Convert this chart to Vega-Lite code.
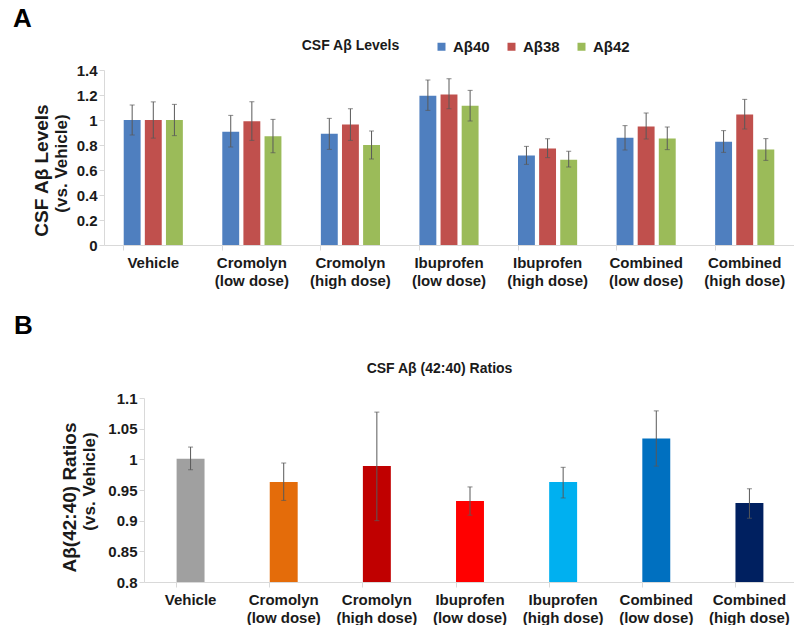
{
  "$schema": "https://vega.github.io/schema/vega-lite/v6.json",
  "padding": {"left": 12, "top": 6, "right": 0, "bottom": 0},
  "config": {
    "font": "Liberation Sans",
    "view": {"stroke": null},
    "axis": {
      "grid": false,
      "labelFont": "Liberation Sans",
      "labelFontWeight": "bold",
      "labelFontSize": 15,
      "labelColor": "#1a1a1a",
      "titleFont": "Liberation Sans",
      "titleFontWeight": "bold",
      "titleColor": "#1a1a1a",
      "domainColor": "#d9d9d9",
      "tickColor": "#d9d9d9",
      "tickSize": 5
    },
    "legend": {
      "labelFont": "Liberation Sans",
      "labelFontWeight": "bold",
      "labelFontSize": 15,
      "labelColor": "#1a1a1a"
    }
  },
  "datasets": {
    "levels": [
      {"group": "Vehicle", "peptide": "Aβ40", "value": 1.0, "lo": 0.88, "hi": 1.12},
      {"group": "Vehicle", "peptide": "Aβ38", "value": 1.0, "lo": 0.855, "hi": 1.145},
      {"group": "Vehicle", "peptide": "Aβ42", "value": 1.0, "lo": 0.875, "hi": 1.125},
      {"group": "Cromolyn|(low dose)", "peptide": "Aβ40", "value": 0.906, "lo": 0.784, "hi": 1.037},
      {"group": "Cromolyn|(low dose)", "peptide": "Aβ38", "value": 0.99, "lo": 0.837, "hi": 1.146},
      {"group": "Cromolyn|(low dose)", "peptide": "Aβ42", "value": 0.87, "lo": 0.738, "hi": 1.005},
      {"group": "Cromolyn|(high dose)", "peptide": "Aβ40", "value": 0.89, "lo": 0.765, "hi": 1.013},
      {"group": "Cromolyn|(high dose)", "peptide": "Aβ38", "value": 0.965, "lo": 0.837, "hi": 1.09},
      {"group": "Cromolyn|(high dose)", "peptide": "Aβ42", "value": 0.8, "lo": 0.688, "hi": 0.912},
      {"group": "Ibuprofen|(low dose)", "peptide": "Aβ40", "value": 1.195, "lo": 1.077, "hi": 1.32},
      {"group": "Ibuprofen|(low dose)", "peptide": "Aβ38", "value": 1.205, "lo": 1.09, "hi": 1.33},
      {"group": "Ibuprofen|(low dose)", "peptide": "Aβ42", "value": 1.115, "lo": 0.992, "hi": 1.237},
      {"group": "Ibuprofen|(high dose)", "peptide": "Aβ40", "value": 0.717, "lo": 0.645, "hi": 0.789},
      {"group": "Ibuprofen|(high dose)", "peptide": "Aβ38", "value": 0.773, "lo": 0.699, "hi": 0.85},
      {"group": "Ibuprofen|(high dose)", "peptide": "Aβ42", "value": 0.683, "lo": 0.624, "hi": 0.75},
      {"group": "Combined|(low dose)", "peptide": "Aβ40", "value": 0.859, "lo": 0.76, "hi": 0.955},
      {"group": "Combined|(low dose)", "peptide": "Aβ38", "value": 0.949, "lo": 0.848, "hi": 1.056},
      {"group": "Combined|(low dose)", "peptide": "Aβ42", "value": 0.853, "lo": 0.763, "hi": 0.944},
      {"group": "Combined|(high dose)", "peptide": "Aβ40", "value": 0.827, "lo": 0.741, "hi": 0.915},
      {"group": "Combined|(high dose)", "peptide": "Aβ38", "value": 1.045, "lo": 0.928, "hi": 1.165},
      {"group": "Combined|(high dose)", "peptide": "Aβ42", "value": 0.765, "lo": 0.677, "hi": 0.851}
    ],
    "ratios": [
      {"group": "Vehicle", "value": 1.001, "lo": 0.983, "hi": 1.02},
      {"group": "Cromolyn|(low dose)", "value": 0.963, "lo": 0.933, "hi": 0.994},
      {"group": "Cromolyn|(high dose)", "value": 0.989, "lo": 0.9, "hi": 1.077},
      {"group": "Ibuprofen|(low dose)", "value": 0.932, "lo": 0.909, "hi": 0.955},
      {"group": "Ibuprofen|(high dose)", "value": 0.963, "lo": 0.937, "hi": 0.987},
      {"group": "Combined|(low dose)", "value": 1.034, "lo": 0.989, "hi": 1.079},
      {"group": "Combined|(high dose)", "value": 0.929, "lo": 0.904, "hi": 0.952}
    ]
  },
  "vconcat": [
    {
      "title": {"text": "A", "anchor": "start", "frame": "bounds", "fontSize": 26, "fontWeight": "bold", "color": "#000000", "dx": -19, "offset": 6},
      "width": 690,
      "height": 175,
      "data": {"name": "levels"},
      "layer": [
        {
          "mark": {"type": "bar"},
          "encoding": {
            "x": {"field": "group", "type": "nominal", "sort": null,
              "scale": {"paddingInner": 0.4, "paddingOuter": 0.2},
              "axis": {"title": null, "labelAngle": 0, "labelExpr": "split(datum.label, '|')", "labelLineHeight": 18, "labelPadding": 5, "bandPosition": 0, "ticks": true}},
            "xOffset": {"field": "peptide", "type": "nominal", "sort": ["Aβ40", "Aβ38", "Aβ42"], "scale": {"paddingInner": 0.2, "paddingOuter": 0}},
            "y": {"field": "value", "type": "quantitative", "scale": {"domain": [0, 1.4], "nice": false},
              "axis": {"title": "CSF Aβ Levels", "titleFontSize": 19, "titleX": -63, "titleY": 100, "titleBaseline": "middle", "titleAngle": -90, "titleAnchor": "middle", "values": [0, 0.2, 0.4, 0.6, 0.8, 1, 1.2, 1.4], "format": "~g", "labelPadding": 2}},
            "color": {"field": "peptide", "type": "nominal",
              "scale": {"domain": ["Aβ40", "Aβ38", "Aβ42"], "range": ["#4f7fbf", "#c0504d", "#9bbb59"]},
              "legend": {"title": null, "orient": "none", "direction": "horizontal", "legendX": 330, "legendY": -31, "symbolType": "square", "symbolSize": 64, "symbolStrokeWidth": 0, "columnPadding": 14, "labelOffset": 4}}
          }
        },
        {
          "mark": {"type": "rule", "color": "#595959", "strokeWidth": 1},
          "encoding": {
            "x": {"field": "group", "type": "nominal", "sort": null,
              "axis": {"orient": "top", "title": "CSF Aβ Levels", "titleFontSize": 14, "titleX": 246, "titleY": -25, "titleBaseline": "middle", "titleAnchor": "middle", "labels": false, "ticks": false, "domain": false}},
            "xOffset": {"field": "peptide", "type": "nominal", "sort": ["Aβ40", "Aβ38", "Aβ42"]},
            "y": {"field": "lo", "type": "quantitative", "axis": null},
            "y2": {"field": "hi"}
          }
        },
        {
          "mark": {"type": "tick", "color": "#595959", "thickness": 1, "size": 5, "orient": "horizontal"},
          "encoding": {
            "x": {"field": "group", "type": "nominal", "sort": null, "axis": null},
            "xOffset": {"field": "peptide", "type": "nominal", "sort": ["Aβ40", "Aβ38", "Aβ42"]},
            "y": {"field": "lo", "type": "quantitative",
              "axis": {"orient": "left", "title": "(vs. Vehicle)", "titleFontSize": 17, "titleFontWeight": "bold", "titleX": -43, "titleY": 93, "titleBaseline": "middle", "titleAngle": -90, "titleAnchor": "middle", "labels": false, "ticks": false, "domain": false}}
          }
        },
        {
          "mark": {"type": "tick", "color": "#595959", "thickness": 1, "size": 5, "orient": "horizontal"},
          "encoding": {
            "x": {"field": "group", "type": "nominal", "sort": null, "axis": null},
            "xOffset": {"field": "peptide", "type": "nominal", "sort": ["Aβ40", "Aβ38", "Aβ42"]},
            "y": {"field": "hi", "type": "quantitative", "axis": null}
          }
        }
      ],
      "resolve": {"axis": {"x": "independent", "y": "independent"}}
    },
    {
      "title": {"text": "B", "anchor": "start", "frame": "bounds", "fontSize": 26, "fontWeight": "bold", "color": "#000000", "dx": -46, "offset": 22},
      "width": 690,
      "height": 184,
      "data": {"name": "ratios"},
      "layer": [
        {
          "mark": {"type": "bar"},
          "encoding": {
            "x": {"field": "group", "type": "nominal", "sort": null,
              "scale": {"paddingInner": 0.7, "paddingOuter": 0.35, "range": [40, 692]},
              "axis": {"title": null, "labelAngle": 0, "labelExpr": "split(datum.label, '|')", "labelLineHeight": 18, "labelPadding": 5, "bandPosition": 0, "ticks": true}},
            "y": {"field": "value", "type": "quantitative", "scale": {"domain": [0.8, 1.1], "zero": false, "nice": false},
              "axis": {"offset": -40, "title": "Aβ(42:40) Ratios", "titleFontSize": 19, "titleX": -75, "titleY": 99, "titleBaseline": "middle", "titleAngle": -90, "titleAnchor": "middle", "values": [0.8, 0.85, 0.9, 0.95, 1, 1.05, 1.1], "format": "~g", "labelPadding": 2}},
            "y2": {"datum": 0.8},
            "color": {"field": "group", "type": "nominal",
              "scale": {"domain": ["Vehicle", "Cromolyn|(low dose)", "Cromolyn|(high dose)", "Ibuprofen|(low dose)", "Ibuprofen|(high dose)", "Combined|(low dose)", "Combined|(high dose)"],
                "range": ["#a0a0a0", "#e46c0a", "#c00000", "#ff0000", "#00b0f0", "#0070c0", "#002060"]},
              "legend": null}
          }
        },
        {
          "mark": {"type": "rule", "color": "#595959", "strokeWidth": 1},
          "encoding": {
            "x": {"field": "group", "type": "nominal", "sort": null,
              "axis": {"orient": "top", "title": "CSF Aβ (42:40) Ratios", "titleFontSize": 14, "titleX": 335, "titleY": -30, "titleBaseline": "middle", "titleAnchor": "middle", "labels": false, "ticks": false, "domain": false}},
            "y": {"field": "lo", "type": "quantitative", "axis": null},
            "y2": {"field": "hi"}
          }
        },
        {
          "mark": {"type": "tick", "color": "#595959", "thickness": 1, "size": 5, "orient": "horizontal"},
          "encoding": {
            "x": {"field": "group", "type": "nominal", "sort": null, "axis": null},
            "y": {"field": "lo", "type": "quantitative",
              "axis": {"orient": "left", "offset": -40, "title": "(vs. Vehicle)", "titleFontSize": 17, "titleFontWeight": "bold", "titleX": -55, "titleY": 83, "titleBaseline": "middle", "titleAngle": -90, "titleAnchor": "middle", "labels": false, "ticks": false, "domain": false}}
          }
        },
        {
          "mark": {"type": "tick", "color": "#595959", "thickness": 1, "size": 5, "orient": "horizontal"},
          "encoding": {
            "x": {"field": "group", "type": "nominal", "sort": null, "axis": null},
            "y": {"field": "hi", "type": "quantitative", "axis": null}
          }
        }
      ],
      "resolve": {"axis": {"x": "independent", "y": "independent"}}
    }
  ],
  "resolve": {"scale": {"color": "independent"}, "legend": {"color": "independent"}},
  "spacing": 25
}
